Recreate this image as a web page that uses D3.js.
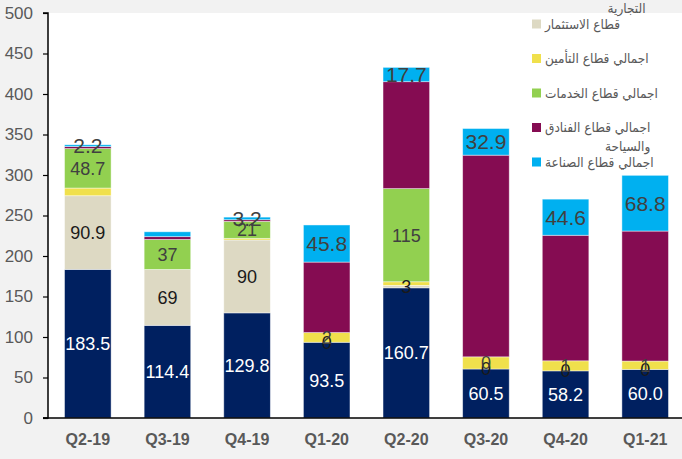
<!DOCTYPE html>
<html>
<head>
<meta charset="utf-8">
<script src="https://cdn.jsdelivr.net/npm/d3@7"></script>
<style>
body{margin:0;background:#f2f2f2;}
svg{display:block;}
</style>
</head>
<body>
<svg id="chart" width="682" height="459"></svg>
<script>
// quarters
var categories=["Q2-19","Q3-19","Q4-19","Q1-20","Q2-20","Q3-20","Q4-20","Q1-21"];

// series values (bottom to top of each stack)
var banks=[183.5,114.4,129.8,93.5,160.7,60.5,58.2,60.0];
var investment=[90.9,69,90,0,3,0,0,0];
var insurance=[9.5,0,2,12,4.5,15,12.4,10.3];
var services=[48.7,37,21,0,115,0,0,0];
var hotels=[2.5,3.5,2,87,132,249,155,160.5];
var industry=[2.2,6,3.2,45.8,17.7,32.9,44.6,68.8];

// data labels as they show on the chart (null = not shown)
var banksLabels=["183.5","114.4","129.8","93.5","160.7","60.5","58.2","60.0"];
var investmentLabels=["90.9","69","90","0","3","0","0","0"];
var insuranceLabels=[null,null,null,"2",null,"0","1","1"];
var servicesLabels=["48.7","37","21",null,"115",null,null,null];
var hotelsLabels=[null,null,null,null,null,null,null,null];
var industryLabels=["2.2",null,"3.2","45.8","17.7","32.9","44.6","68.8"];

var yTicks=[0,50,100,150,200,250,300,350,400,450,500];

var seriesNames=[
	["اجمالي قطاع البنوك","التجارية"],
	["قطاع الاستثمار"],
	["اجمالي قطاع التأمين"],
	["اجمالي قطاع الخدمات"],
	["اجمالي قطاع الفنادق","والسياحة"],
	["اجمالي قطاع الصناعة"]
];

var keys=["banks","investment","insurance","services","hotels","industry"];
var colors={banks:"#002060",investment:"#ddd9c3",insurance:"#f0e04c",services:"#92d050",hotels:"#850c52",industry:"#00b0f0"};
var labelColors={banks:"#ffffff",investment:"#1a1a1a",insurance:"#404040",services:"#404040",hotels:"#404040",industry:"#404040"};
var labelSizes={banks:18,investment:18,insurance:18,services:18,hotels:18,industry:21};
var seriesValues={banks:banks,investment:investment,insurance:insurance,services:services,hotels:hotels,industry:industry};
var seriesLabels={banks:banksLabels,investment:investmentLabels,insurance:insuranceLabels,services:servicesLabels,hotels:hotelsLabels,industry:industryLabels};

var rows=categories.map(function(c,i){
	var r={cat:c};
	keys.forEach(function(k){r[k]=seriesValues[k][i];});
	return r;
});

var svg=d3.select("#chart");
var plotL=48,plotR=685,plotT=13,plotB=418;

svg.append("rect").attr("x",plotL).attr("y",plotT).attr("width",682-plotL).attr("height",plotB-plotT).attr("fill","#ffffff");

var x=d3.scaleBand().domain(categories).range([plotL,plotR]).paddingInner(0.415).paddingOuter(0.2075);
var y=d3.scaleLinear().domain([0,500]).range([plotB,plotT]);

var stacked=d3.stack().keys(keys)(rows);

var layers=svg.append("g").selectAll("g")
	.data(stacked).enter().append("g")
	.attr("fill",function(d){return colors[d.key];});

layers.selectAll("rect")
	.data(function(d){return d;})
	.enter().append("rect")
	.attr("x",function(d){return x(d.data.cat);})
	.attr("y",function(d){return y(d[1]);})
	.attr("width",x.bandwidth())
	.attr("height",function(d){return y(d[0])-y(d[1]);})
	.attr("stroke","#ffffff")
	.attr("stroke-opacity",0.55)
	.attr("stroke-width",0.8);

// data labels
stacked.forEach(function(layer){
	var k=layer.key;
	svg.append("g").selectAll("text")
		.data(layer.filter(function(d,i){return seriesLabels[k][i]!==null;}))
		.enter().append("text")
		.attr("x",function(d){return x(d.data.cat)+x.bandwidth()/2;})
		.attr("y",function(d){return (y(d[0])+y(d[1]))/2;})
		.attr("dy","0.36em")
		.attr("text-anchor","middle")
		.attr("font-family","Liberation Sans, Arial, sans-serif")
		.attr("font-size",labelSizes[k])
		.attr("fill",labelColors[k])
		.text(function(d){return seriesLabels[k][categories.indexOf(d.data.cat)];});
});

// axes
var yAxis=svg.append("g").attr("transform","translate("+plotL+",0)")
	.call(d3.axisLeft(y).tickValues(yTicks).tickSize(5).tickPadding(10));
yAxis.select(".domain").attr("stroke","#000").attr("stroke-width",1.5).attr("d","M-5,"+plotT+"H0V"+plotB+"H-5");
yAxis.selectAll(".tick line").attr("stroke","#000").attr("stroke-width",1.2);
yAxis.selectAll("text").attr("font-family","Liberation Sans, Arial, sans-serif").attr("font-size",17).attr("fill","#595959");

var xAxis=svg.append("g").attr("transform","translate(0,"+plotB+")")
	.call(d3.axisBottom(x).tickSize(0).tickPadding(16));
xAxis.select(".domain").attr("stroke","#000").attr("stroke-width",1.5).attr("d","M"+(plotL-5)+",0H682");
xAxis.selectAll("text").attr("font-family","Liberation Sans, Arial, sans-serif").attr("font-size",16).attr("font-weight","bold").attr("fill","#595959");

// legend
var legX=532,legTop=-10.5,legStep=34.5;
var legFont="DejaVu Sans Condensed, DejaVu Sans, sans-serif";
var legend=svg.append("g");
keys.forEach(function(k,i){
	var cy=legTop+i*legStep;
	legend.append("rect").attr("x",legX).attr("y",cy-4.5).attr("width",9).attr("height",9).attr("fill",colors[k]);
	var first=legend.append("text")
		.attr("x",legX+13).attr("y",cy).attr("dy","0.35em")
		.attr("font-family",legFont).attr("font-size",13.5).attr("fill","#595959")
		.text(seriesNames[i][0]);
	var w=first.node().getComputedTextLength();
	seriesNames[i].slice(1).forEach(function(line,j){
		legend.append("text")
			.attr("x",legX+13+w).attr("y",cy+19*(j+1)).attr("dy","0.35em")
			.attr("text-anchor","end")
			.attr("font-family",legFont).attr("font-size",13.5).attr("fill","#595959")
			.text(line);
	});
});
</script>
</body>
</html>
